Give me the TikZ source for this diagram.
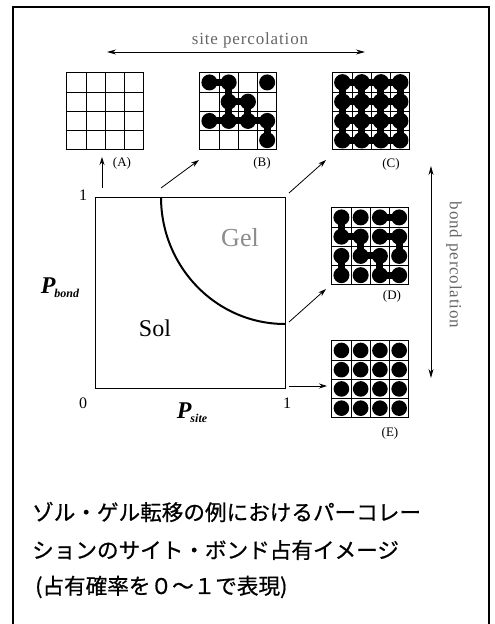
\documentclass[tikz,border=0pt]{standalone}
\usepackage{fontspec}
\setmainfont{Liberation Serif}
\newfontfamily\cjk[FakeBold=0.7]{Noto Sans CJK JP}
\usetikzlibrary{arrows.meta,calc}
\newcommand\latlines[1]{%
  \foreach \ii in {0,...,4}{%
    \draw[latline] ($(#1.north west)+(\ii*19.25,0)$) -- ($(#1.north west)+(\ii*19.25,-77)$);
    \draw[latline] ($(#1.north west)+(0,-\ii*19.25)$) -- ($(#1.north west)+(77,-\ii*19.25)$);
  }}
\begin{document}
\begin{tikzpicture}[x=1pt,y=1pt,
  frameline/.style={line width=1.1pt},
  latline/.style={line width=1.1pt, line cap=rect},
  gridbox/.style={inner sep=0pt, minimum width=77pt, minimum height=77pt, fill=white},
  site/.style={fill=black},
  bondline/.style={line width=7pt},
  conn/.style={line width=0.8pt, -{Stealth[length=8pt,width=5pt]}},
  dconn/.style={line width=0.9pt, {Stealth[length=9pt,width=5pt]}-{Stealth[length=9pt,width=5pt]}},
  lbl/.style={font=\fontsize{13}{13}\selectfont, inner sep=0pt},
  num/.style={font=\fontsize{16}{16}\selectfont, inner sep=0pt},
  perc/.style={font=\fontsize{17}{17}\selectfont\addfontfeature{LetterSpace=5}, text=black!60, inner sep=0pt},
  jp/.style={font=\cjk\fontsize{21.6}{21.6}\selectfont, anchor=west, inner sep=0pt}
]
\useasboundingbox (0,0) rectangle (495,-624);
% frame
\draw[frameline] (13,-624) -- (13,-7) -- (489,-7) -- (489,-624);

% lattices
\node[gridbox] (gA) at (105.5,-111.5) {};
\node[gridbox] (gB) at (238.5,-111.5) {};
\node[gridbox] (gC) at (371.5,-111.5) {};
\node[gridbox] (gD) at (370.5,-246.5) {};
\node[gridbox] (gE) at (370.5,-379.5) {};

% (A) empty
\latlines{gA}

% (B)
\begin{scope}[shift={(gB.north west)}]
  \foreach \ca/\ra/\cb/\rb in {0/0/1/0, 1/0/1/1, 1/1/2/1, 1/1/1/2, 2/1/2/2, 0/2/1/2, 1/2/2/2, 2/2/3/2, 3/2/3/3}
    \draw[bondline] (\ca*19.25+9.625,-\ra*19.25-9.625) -- (\cb*19.25+9.625,-\rb*19.25-9.625);
  \foreach \cx/\ry in {0/0,1/0,3/0,1/1,2/1,0/2,1/2,2/2,3/2,3/3}
    \fill[site] (\cx*19.25+9.625,-\ry*19.25-9.625) circle (8);
\end{scope}
\latlines{gB}

% (C) all sites, all bonds
\begin{scope}[shift={(gC.north west)}]
  \foreach \k in {0,...,3}{
    \draw[bondline] (9.625,-\k*19.25-9.625) -- (3*19.25+9.625,-\k*19.25-9.625);
    \draw[bondline] (\k*19.25+9.625,-9.625) -- (\k*19.25+9.625,-3*19.25-9.625);
  }
  \foreach \cx in {0,...,3}
    \foreach \ry in {0,...,3}
      \fill[site] (\cx*19.25+9.625,-\ry*19.25-9.625) circle (8.3);
\end{scope}
\latlines{gC}

% (D) all sites, some bonds
\begin{scope}[shift={(gD.north west)}]
  \foreach \ca/\ra/\cb/\rb in {2/0/3/0, 0/0/0/1, 0/1/1/1, 1/1/1/2, 1/2/2/2, 2/2/2/3, 2/3/3/3, 2/1/3/1, 3/1/3/2, 0/2/0/3}
    \draw[bondline] (\ca*19.25+9.625,-\ra*19.25-9.625) -- (\cb*19.25+9.625,-\rb*19.25-9.625);
  \foreach \cx in {0,...,3}
    \foreach \ry in {0,...,3}
      \fill[site] (\cx*19.25+9.625,-\ry*19.25-9.625) circle (8);
\end{scope}
\latlines{gD}

% (E) all sites, no bonds
\begin{scope}[shift={(gE.north west)}]
  \foreach \cx in {0,...,3}
    \foreach \ry in {0,...,3}
      \fill[site] (\cx*19.25+9.625,-\ry*19.25-9.625) circle (7.8);
\end{scope}
\latlines{gE}

% lattice labels
\node[lbl] (lA) at (122,-163) {(A)};
\node[lbl] (lB) at (262,-163) {(B)};
\node[lbl] (lC) at (391,-164) {(C)};
\node[lbl] (lD) at (392,-296) {(D)};
\node[lbl] (lE) at (390,-433) {(E)};

% phase diagram square
\node[draw, line width=0.9pt, inner sep=0pt, minimum width=190pt, minimum height=191pt] (sq) at (190,-292.5) {};
\draw[line width=2pt] (161,-197) arc[start angle=180, end angle=270, x radius=124, y radius=127];
\node[font=\fontsize{24}{24}\selectfont, inner sep=0pt] (sol) at (155,-328) {Sol};
\node[font=\fontsize{26}{26}\selectfont, text=black!45, inner sep=0pt] (gel) at (240,-238) {Gel};
\node[num] (n1a) at (83,-195) {1};
\node[num] (n0) at (83,-403) {0};
\node[num] (n1b) at (287,-403) {1};
\node[font=\bfseries\itshape\fontsize{24}{24}\selectfont, inner sep=0pt] (pb) at (60,-288) {P\kern-1pt{\fontsize{12}{12}\selectfont\raisebox{-4pt}{bond}}};
\node[font=\bfseries\itshape\fontsize{24}{24}\selectfont, inner sep=0pt] (ps) at (192,-413) {P\kern-1pt{\fontsize{12}{12}\selectfont\raisebox{-4pt}{site}}};

% connectors
\coordinate (aA0) at (102,-188); \coordinate (aA1) at (102,-157);
\coordinate (aB0) at (161,-188); \coordinate (aB1) at (199,-160);
\coordinate (aC0) at (289,-193); \coordinate (aC1) at (326,-160);
\coordinate (aD0) at (289,-322); \coordinate (aD1) at (326,-289);
\coordinate (aE0) at (289,-386); \coordinate (aE1) at (327,-386);
\draw[conn] (aA0) -- (aA1);
\draw[conn] (aB0) -- (aB1);
\draw[conn] (aC0) -- (aC1);
\draw[conn] (aD0) -- (aD1);
\draw[conn] (aE0) -- (aE1);

% percolation arrows
\coordinate (sp0) at (107,-52); \coordinate (sp1) at (365,-52);
\draw[dconn] (sp0) -- (sp1);
\node[perc] (spt) at (250,-40) {site percolation};
\coordinate (bp0) at (431,-166); \coordinate (bp1) at (431,-378);
\draw[dconn] (bp0) -- (bp1);
\node[perc, rotate=-90] (bpt) at (454,-265) {bond percolation};

% caption
\node[jp] (j1) at (32,-512) {ゾル・ゲル転移の例におけるパーコレー};
\node[jp] (j2) at (32,-550) {ションのサイト・ボンド占有イメージ};
\node[jp] (j3) at (35,-587) {(占有確率を０〜１で表現)};
\end{tikzpicture}
\end{document}
